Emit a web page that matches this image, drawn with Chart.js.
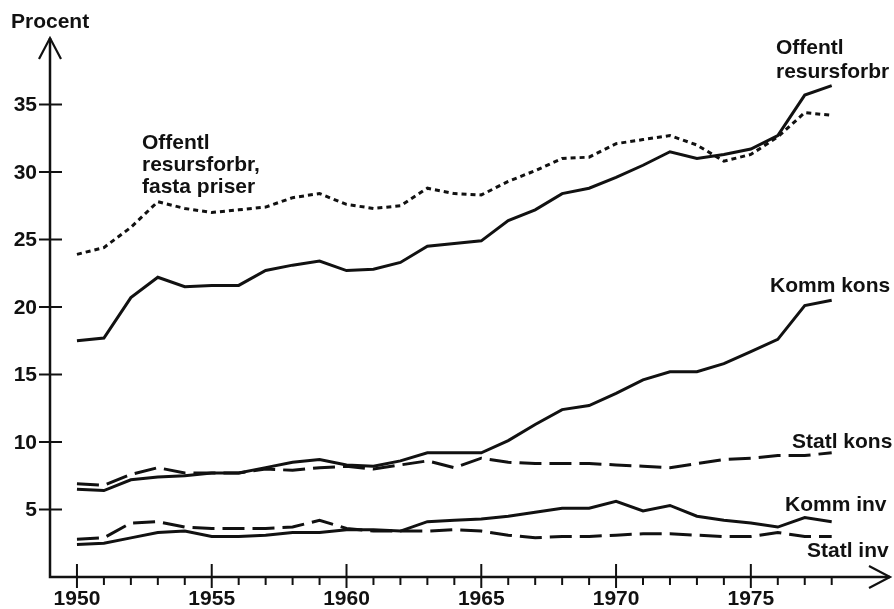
<!DOCTYPE html>
<html>
<head>
<meta charset="utf-8">
<script src="https://cdn.jsdelivr.net/npm/chart.js@4/dist/chart.umd.min.js"></script>
<style>
  html, body { margin: 0; padding: 0; background: #fff; }
  #wrap { width: 894px; height: 609px; }
</style>
</head>
<body>
<div id="wrap"><canvas id="Chart1" width="894" height="609"></canvas></div>
<script>
// Offentlig resursförbrukning, procent

let years = [1950,1951,1952,1953,1954,1955,1956,1957,1958,1959,
             1960,1961,1962,1963,1964,1965,1966,1967,1968,1969,
             1970,1971,1972,1973,1974,1975,1976,1977,1978];

let offentl = [17.5,17.7,20.7,22.2,21.5,21.6,21.6,22.7,23.1,23.4,
               22.7,22.8,23.3,24.5,24.7,24.9,26.4,27.2,28.4,28.8,
               29.6,30.5,31.5,31.0,31.3,31.7,32.7,35.7,36.4];
let fastaPriser = [23.9,24.4,25.9,27.8,27.3,27.0,27.2,27.4,28.1,28.4,
                   27.6,27.3,27.5,28.8,28.4,28.3,29.3,30.1,31.0,31.1,
                   32.1,32.4,32.7,32.0,30.8,31.3,32.6,34.4,34.2];
let kommKons = [6.5,6.4,7.2,7.4,7.5,7.7,7.7,8.1,8.5,8.7,
                8.3,8.2,8.6,9.2,9.2,9.2,10.1,11.3,12.4,12.7,
                13.6,14.6,15.2,15.2,15.8,16.7,17.6,20.1,20.5];
let statlKons = [6.9,6.8,7.6,8.1,7.7,7.7,7.7,8.0,7.9,8.1,
                 8.2,8.0,8.3,8.6,8.1,8.8,8.5,8.4,8.4,8.4,
                 8.3,8.2,8.1,8.4,8.7,8.8,9.0,9.0,9.2];
let kommInv = [2.4,2.5,2.9,3.3,3.4,3.0,3.0,3.1,3.3,3.3,
               3.5,3.5,3.4,4.1,4.2,4.3,4.5,4.8,5.1,5.1,
               5.6,4.9,5.3,4.5,4.2,4.0,3.7,4.4,4.1];
let statlInv = [2.8,2.9,4.0,4.1,3.7,3.6,3.6,3.6,3.7,4.2,
                3.6,3.4,3.4,3.4,3.5,3.4,3.1,2.9,3.0,3.0,
                3.1,3.2,3.2,3.1,3.0,3.0,3.3,3.0,3.0];

let yTicks = [5,10,15,20,25,30,35];
let xTicks = [1950,1955,1960,1965,1970,1975];

const INK = "#111";
const FONT = 'bold 21px "Liberation Sans", Arial, sans-serif';

function pts(vals) {
    return vals.map((v, i) => ({ x: years[i], y: v }));
}

function series(vals, dash) {
    return {
        data: pts(vals),
        borderColor: INK,
        borderWidth: 3,
        borderDash: dash,
        pointRadius: 0,
        tension: 0,
        fill: false
    };
}

let data = {
    datasets: [
        series(offentl, []),
        series(fastaPriser, [5, 4]),
        series(kommKons, []),
        series(statlKons, [22, 8]),
        series(kommInv, []),
        series(statlInv, [22, 8])
    ]
};

// axes, arrows, ticks and all texts
const axesPlugin = {
    id: "axes",
    afterDraw(chart) {
        const ctx = chart.ctx;
        const xs = chart.scales.x, ys = chart.scales.y;
        const a = chart.chartArea;
        const x0 = a.left, y0 = a.bottom;
        ctx.save();
        ctx.strokeStyle = INK;
        ctx.fillStyle = INK;
        ctx.lineWidth = 2.5;
        ctx.lineCap = "butt";

        // axis lines
        ctx.beginPath();
        ctx.moveTo(x0, a.top + 1);
        ctx.lineTo(x0, y0);
        ctx.lineTo(a.right - 1, y0);
        ctx.stroke();

        // arrow heads
        ctx.lineWidth = 2.2;
        ctx.beginPath();
        ctx.moveTo(x0 - 11, a.top + 22);
        ctx.lineTo(x0, a.top + 1);
        ctx.lineTo(x0 + 11, a.top + 22);
        ctx.moveTo(a.right - 22, y0 - 11);
        ctx.lineTo(a.right - 1, y0);
        ctx.lineTo(a.right - 22, y0 + 11);
        ctx.stroke();

        // y ticks
        ctx.lineWidth = 2;
        ctx.font = FONT;
        ctx.textAlign = "right";
        ctx.textBaseline = "middle";
        yTicks.forEach(v => {
            const py = ys.getPixelForValue(v);
            ctx.beginPath();
            ctx.moveTo(x0 - 11, py);
            ctx.lineTo(x0 + 12, py);
            ctx.stroke();
            ctx.fillText(String(v), x0 - 13, py + 1);
        });

        // x ticks: every year below, majors crossing
        years.forEach(yr => {
            const px = xs.getPixelForValue(yr);
            const major = xTicks.includes(yr);
            ctx.beginPath();
            ctx.moveTo(px, major ? y0 - 13 : y0);
            ctx.lineTo(px, major ? y0 + 11 : y0 + 8);
            ctx.stroke();
        });
        ctx.textAlign = "center";
        xTicks.forEach(yr => {
            ctx.fillText(String(yr), xs.getPixelForValue(yr), 599);
        });

        // labels
        ctx.textAlign = "left";
        ctx.fillText("Procent", 11, 22);
        ctx.fillText("Offentl", 142, 143);
        ctx.fillText("resursforbr,", 142, 165);
        ctx.fillText("fasta priser", 142, 187);
        ctx.fillText("Offentl", 776, 48);
        ctx.fillText("resursforbr", 776, 72);
        ctx.fillText("Komm kons", 770, 286);
        ctx.fillText("Statl kons", 792, 442);
        ctx.fillText("Komm inv", 785, 505);
        ctx.fillText("Statl inv", 807, 551);
        ctx.restore();
    }
};

let config = {
    type: "line",
    data,
    options: {
        responsive: false,
        animation: false,
        devicePixelRatio: 1,
        layout: {
            padding: { left: 50, right: 3, top: 37, bottom: 32 }
        },
        scales: {
            x: { type: "linear", min: 1949, max: 1980.2, display: false },
            y: { type: "linear", min: 0, max: 40, display: false }
        },
        plugins: {
            legend: { display: false },
            tooltip: { enabled: false }
        }
    },
    plugins: [axesPlugin]
};

const myChart1 = new Chart("Chart1", config);
</script>
</body>
</html>
